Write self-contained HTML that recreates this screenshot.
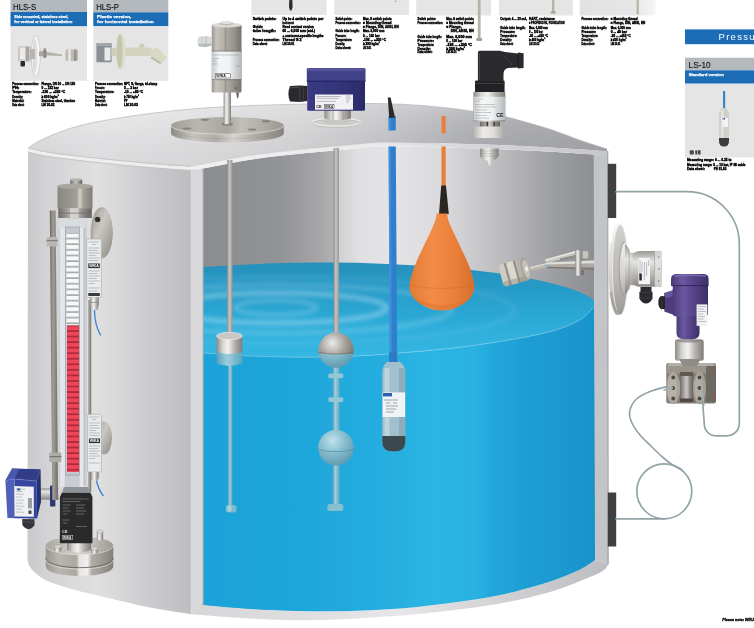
<!DOCTYPE html>
<html><head><meta charset="utf-8"><title>Level measurement</title>
<style>
html,body{margin:0;padding:0;background:#fff;overflow:hidden}
svg{display:block}
text{font-family:"Liberation Sans",sans-serif}
.t{font-size:4px;font-weight:bold;fill:#000;stroke:#000;stroke-width:.42px}
.w{font-size:4.3px;font-weight:bold;fill:#fff;stroke:#fff;stroke-width:.25px}
.h{font-size:8.7px;fill:#111;stroke:#111;stroke-width:.12px}
</style></head><body>
<svg width="754" height="628" viewBox="0 0 754 628">
<rect width="754" height="628" fill="#fff"/>
<filter id="gsoft" filterUnits="userSpaceOnUse" x="-10" y="-10" width="774" height="648"><feGaussianBlur stdDeviation=".45"/></filter>
<g filter="url(#gsoft)">
<rect x="-10" y="-10" width="774" height="648" fill="#fff"/>
<!-- defs -->
<defs>
<filter id="blur1" x="-10%" y="-50%" width="120%" height="200%"><feGaussianBlur stdDeviation="2.2"/></filter>
<filter id="blurS" x="-20%" y="-20%" width="140%" height="140%"><feGaussianBlur stdDeviation=".5"/></filter>
<filter id="soft" x="-5%" y="-5%" width="110%" height="110%"><feGaussianBlur stdDeviation=".35"/></filter>
<linearGradient id="gRoof" gradientUnits="userSpaceOnUse" x1="28" y1="0" x2="607" y2="0">
<stop offset="0" stop-color="#dcdcde"/><stop offset="0.12" stop-color="#e4e4e6"/><stop offset="0.3" stop-color="#dedee0"/><stop offset="0.47" stop-color="#d4d4d6"/><stop offset="0.6" stop-color="#c6c6c9"/><stop offset="0.68" stop-color="#babbbf"/><stop offset="0.76" stop-color="#aeafb3"/><stop offset="0.85" stop-color="#a6a7ab"/><stop offset="1" stop-color="#a2a3a7"/>
</linearGradient>
<linearGradient id="gRoofV" gradientUnits="userSpaceOnUse" x1="0" y1="100" x2="0" y2="170">
<stop offset="0" stop-color="#fff" stop-opacity=".28"/><stop offset=".35" stop-color="#fff" stop-opacity=".06"/><stop offset="1" stop-color="#000" stop-opacity=".04"/>
</linearGradient>
<linearGradient id="gInt" gradientUnits="userSpaceOnUse" x1="203" y1="0" x2="594" y2="0">
<stop offset="0" stop-color="#8c8d91"/><stop offset="0.1" stop-color="#8e8f93"/><stop offset="0.2" stop-color="#939498"/><stop offset="0.3" stop-color="#a6a6a9"/><stop offset="0.335" stop-color="#b2b2b5"/><stop offset="0.345" stop-color="#d0d0d2"/><stop offset="0.4" stop-color="#e0e0e2"/><stop offset="0.5" stop-color="#e4e4e6"/><stop offset="0.62" stop-color="#d9d9db"/><stop offset="0.76" stop-color="#bcbcbf"/><stop offset="0.9" stop-color="#9c9da1"/><stop offset="1" stop-color="#8e8f93"/>
</linearGradient>
<linearGradient id="gWall" gradientUnits="userSpaceOnUse" x1="28" y1="0" x2="190" y2="0">
<stop offset="0" stop-color="#cacacd"/><stop offset="0.12" stop-color="#d3d3d5"/><stop offset="0.42" stop-color="#e0e0e1"/><stop offset="0.6" stop-color="#d5d5d7"/><stop offset="0.8" stop-color="#c8c8cb"/><stop offset="1" stop-color="#bebec1"/>
</linearGradient>
<linearGradient id="gBand" gradientUnits="userSpaceOnUse" x1="190" y1="0" x2="607" y2="0">
<stop offset="0" stop-color="#f0f0f1"/><stop offset=".45" stop-color="#eaeaec"/><stop offset=".7" stop-color="#d4d4d7"/><stop offset="1" stop-color="#c6c7ca"/>
</linearGradient>
<linearGradient id="gFloor" gradientUnits="userSpaceOnUse" x1="190" y1="0" x2="608" y2="0">
<stop offset="0" stop-color="#d6d6d8"/><stop offset=".5" stop-color="#e6e6e8"/><stop offset="1" stop-color="#bcbdc0"/>
</linearGradient>
<linearGradient id="gWaterF" gradientUnits="userSpaceOnUse" x1="203" y1="0" x2="594" y2="0">
<stop offset="0" stop-color="#1ba2d8"/><stop offset="0.25" stop-color="#1ea6da"/><stop offset="0.45" stop-color="#25addf"/><stop offset="0.6" stop-color="#2cb5e3"/><stop offset="0.7" stop-color="#29b1e1"/><stop offset="0.74" stop-color="#22a7db"/><stop offset="0.87" stop-color="#1c9bd2"/><stop offset="1" stop-color="#1993cb"/>
</linearGradient>
<linearGradient id="gWaterS" gradientUnits="userSpaceOnUse" x1="0" y1="263" x2="0" y2="357">
<stop offset="0" stop-color="#2590bb"/><stop offset=".3" stop-color="#279cc9"/><stop offset=".65" stop-color="#2dacd9"/><stop offset="1" stop-color="#35b7e3"/>
</linearGradient>
<linearGradient id="gSteelH" x1="0" y1="0" x2="1" y2="0">
<stop offset="0" stop-color="#8d8a86"/><stop offset=".25" stop-color="#d8d7d5"/><stop offset=".45" stop-color="#f2f2f1"/><stop offset=".7" stop-color="#b5b3b0"/><stop offset="1" stop-color="#7f7c78"/>
</linearGradient>
<linearGradient id="gSteelD" x1="0" y1="0" x2="1" y2="0">
<stop offset="0" stop-color="#6e6a65"/><stop offset=".3" stop-color="#a9a6a1"/><stop offset=".5" stop-color="#c9c7c3"/><stop offset=".75" stop-color="#8d8984"/><stop offset="1" stop-color="#65615c"/>
</linearGradient>
<linearGradient id="gRod" x1="0" y1="0" x2="1" y2="0">
<stop offset="0" stop-color="#8f8a87"/><stop offset="0.4" stop-color="#c9c5c2"/><stop offset="1" stop-color="#9a9592"/>
</linearGradient>
<linearGradient id="gRodW" x1="0" y1="0" x2="1" y2="0">
<stop offset="0" stop-color="#5a9fb8"/><stop offset=".4" stop-color="#9fd0e0"/><stop offset="1" stop-color="#62a6be"/>
</linearGradient>
<linearGradient id="gSteelV" x1="0" y1="0" x2="0" y2="1">
<stop offset="0" stop-color="#9a9894"/><stop offset=".3" stop-color="#e6e5e3"/><stop offset=".6" stop-color="#c0beba"/><stop offset="1" stop-color="#8a8783"/>
</linearGradient>
<radialGradient id="gBall" cx=".4" cy=".3" r=".75"><stop offset="0" stop-color="#ecebe9"/><stop offset=".45" stop-color="#aaa7a2"/><stop offset="1" stop-color="#68645e"/></radialGradient>
<radialGradient id="gBallW" cx=".4" cy=".3" r=".75">
<stop offset="0" stop-color="#bfe2ec"/><stop offset=".5" stop-color="#86bccd"/><stop offset="1" stop-color="#5c97ad"/>
</radialGradient>
<linearGradient id="gOrange" x1="0" y1="0" x2="1" y2="0">
<stop offset="0" stop-color="#e27a34"/><stop offset=".35" stop-color="#f28c48"/><stop offset=".7" stop-color="#ea803a"/><stop offset="1" stop-color="#d56f2c"/>
</linearGradient>
<linearGradient id="gPurple" x1="0" y1="0" x2="1" y2="0">
<stop offset="0" stop-color="#4a3a78"/><stop offset=".3" stop-color="#6a58a0"/><stop offset=".6" stop-color="#554488"/><stop offset="1" stop-color="#3c2e66"/>
</linearGradient>
<linearGradient id="gBlueBox" x1="0" y1="0" x2="1" y2="0">
<stop offset="0" stop-color="#3a3a84"/><stop offset="0.5" stop-color="#34347a"/><stop offset="1" stop-color="#2b2b6a"/>
</linearGradient>
<linearGradient id="gCard7" x1="0" y1="0" x2="1" y2="0">
<stop offset="0" stop-color="#e2e2e3"/><stop offset=".7" stop-color="#e6e6e7"/><stop offset="1" stop-color="#f6f6f7"/>
</linearGradient>
<pattern id="pFlapW" x="0" y="232.8" width="13" height="5.65" patternUnits="userSpaceOnUse"><rect width="13" height="5.65" fill="#9da2a8"/><rect y=".9" width="13" height="4.1" fill="#f8f8f7"/></pattern>
<pattern id="pFlapR" x="0" y="325.4" width="13" height="5.55" patternUnits="userSpaceOnUse"><rect width="13" height="5.55" fill="#a8283a"/><rect y=".9" width="13" height="3.9" fill="#f04558"/></pattern>
<linearGradient id="gFlangeTop" x1="0" y1="0" x2="1" y2="0">
<stop offset="0" stop-color="#a29e98"/><stop offset="0.25" stop-color="#bab7b2"/><stop offset="0.5" stop-color="#a9a59f"/><stop offset="0.62" stop-color="#c2bfba"/><stop offset="0.8" stop-color="#b2aea8"/><stop offset="1" stop-color="#9a9690"/>
</linearGradient>
<linearGradient id="gFlangeSide" x1="0" y1="0" x2="1" y2="0">
<stop offset="0" stop-color="#8f8b86"/><stop offset="0.2" stop-color="#c9c6c2"/><stop offset="0.4" stop-color="#b0ada8"/><stop offset="0.55" stop-color="#d6d4d0"/><stop offset="0.7" stop-color="#b9b6b1"/><stop offset="1" stop-color="#85817c"/>
</linearGradient>
<linearGradient id="gLabel" x1="0" y1="0" x2="1" y2="0">
<stop offset="0" stop-color="#c6cbce"/><stop offset=".25" stop-color="#f3f5f6"/><stop offset=".6" stop-color="#eef0f1"/><stop offset="1" stop-color="#b4b9bc"/>
</linearGradient>
<linearGradient id="gNut" x1="0" y1="0" x2="1" y2="0">
<stop offset="0" stop-color="#b9b8b4"/><stop offset=".3" stop-color="#ecebe8"/><stop offset=".65" stop-color="#dddcd8"/><stop offset="1" stop-color="#a9a7a3"/>
</linearGradient>
<linearGradient id="gFlJ" x1="0" y1="0" x2="0" y2="1">
<stop offset="0" stop-color="#f0efed"/><stop offset="0.3" stop-color="#e2e1de"/><stop offset="0.6" stop-color="#d4d2cf"/><stop offset="1" stop-color="#acaaa6"/>
</linearGradient>
<linearGradient id="gFlL" x1="0" y1="0" x2="1" y2="1">
<stop offset="0" stop-color="#a09c96"/><stop offset="0.4" stop-color="#cbc8c3"/><stop offset="0.7" stop-color="#aba7a1"/><stop offset="1" stop-color="#8a8680"/>
</linearGradient>
<linearGradient id="gRodL" x1="0" y1="0" x2="1" y2="0">
<stop offset="0" stop-color="#6b6761"/><stop offset=".4" stop-color="#a29e98"/><stop offset="1" stop-color="#6f6b65"/>
</linearGradient>
<linearGradient id="gHeadL" x1="0" y1="0" x2="1" y2="0">
<stop offset="0" stop-color="#8a8680"/><stop offset=".35" stop-color="#9a968f"/><stop offset=".55" stop-color="#a39f98"/><stop offset=".64" stop-color="#d2d0cb"/><stop offset=".74" stop-color="#a5a19a"/><stop offset="1" stop-color="#807c76"/>
</linearGradient>
<linearGradient id="gRail" x1="0" y1="0" x2="1" y2="0">
<stop offset="0" stop-color="#c2c6cb"/><stop offset="0.08" stop-color="#e6e9ec"/><stop offset="0.24" stop-color="#dfe2e6"/><stop offset="0.26" stop-color="#b9bdc3"/><stop offset="0.72" stop-color="#b9bdc3"/><stop offset="0.74" stop-color="#e3e6e9"/><stop offset="0.92" stop-color="#e8eaed"/><stop offset="1" stop-color="#b8bcc1"/>
</linearGradient>
<linearGradient id="gHeadD" x1="0" y1="0" x2="1" y2="0">
<stop offset="0" stop-color="#9a958f"/><stop offset="0.15" stop-color="#c6c2bc"/><stop offset="0.4" stop-color="#b5b1ab"/><stop offset="0.47" stop-color="#989490"/><stop offset="0.52" stop-color="#aaa6a0"/><stop offset="0.75" stop-color="#96928c"/><stop offset="1" stop-color="#75716b"/>
</linearGradient>
<linearGradient id="gFlJ2" x1="0" y1="0" x2="0" y2="1">
<stop offset="0" stop-color="#d3d1ce"/><stop offset="0.3" stop-color="#c5c3bf"/><stop offset="0.6" stop-color="#bcbab6"/><stop offset="1" stop-color="#9a9894"/>
</linearGradient>
<linearGradient id="gFlB" x1="0" y1="0" x2="1" y2="0">
<stop offset="0" stop-color="#9a968f"/><stop offset=".2" stop-color="#b9b5af"/><stop offset=".45" stop-color="#aaa6a0"/><stop offset=".5" stop-color="#e6e5e3"/><stop offset=".62" stop-color="#f0efed"/><stop offset=".68" stop-color="#b0aca6"/><stop offset=".85" stop-color="#9a9690"/><stop offset="1" stop-color="#827e78"/>
</linearGradient>
<linearGradient id="gFlBT" x1="0" y1="0" x2="1" y2="0">
<stop offset="0" stop-color="#a9a59f"/><stop offset=".3" stop-color="#c6c3be"/><stop offset=".55" stop-color="#d6d4d0"/><stop offset=".8" stop-color="#b4b0aa"/><stop offset="1" stop-color="#9d9993"/>
</linearGradient>
</defs>

<!-- cards -->
<rect x="10.5" y="-2" width="76.5" height="14" fill="#b3b9bc"/>
<rect x="10.5" y="12" width="76.5" height="14.4" fill="#1b6db6"/>
<rect x="10.5" y="26.4" width="76.5" height="54.4" fill="#e5e5e6"/>
<text class="h" x="13" y="9.9" textLength="23.2" lengthAdjust="spacingAndGlyphs">HLS-S</text>
<text class="w" x="14.3" y="18.3" textLength="54" lengthAdjust="spacingAndGlyphs">Side mounted, stainless steel,</text>
<text class="w" x="14.3" y="23.3" textLength="58" lengthAdjust="spacingAndGlyphs">for vertical or lateral installation</text>
<g filter="url(#blurS)">
<ellipse cx="35.8" cy="55.8" rx="4.6" ry="20.5" fill="#f3f3f3" stroke="#c9c9ca" stroke-width=".8"/>
<ellipse cx="34.8" cy="55.8" rx="2.2" ry="17" fill="#dcdcdc"/>
<rect x="18" y="46" width="13" height="15.5" rx="1.5" fill="#c9c8c6"/>
<rect x="20" y="47.5" width="5" height="12" fill="#ecebea"/>
<rect x="26" y="47" width="3" height="14" fill="#a9a6a2"/>
<rect x="30" y="49" width="5" height="10" fill="#b9b6b1"/>
<rect x="20.5" y="61" width="4.5" height="5.5" rx="1" fill="#2b2b2d"/>
<path d="M39,51.5 L47,50.5 L47,57 L39,56 Z" fill="#aaa6a0"/>
<rect x="43.5" y="48.5" width="2.5" height="9.5" fill="#8e8a85"/>
<path d="M47,52 L62,54.5 L62,56 L47,55.5 Z" fill="#b5b1ab"/>
<rect x="65.5" y="49.5" width="12.5" height="11.5" rx="2" fill="#bdb9b3"/>
<rect x="68" y="49.5" width="3" height="11.5" fill="#e3e1de"/>
<rect x="74" y="49.5" width="2.5" height="11.5" fill="#96928c"/>
</g>
<rect x="93.3" y="-2" width="75" height="14.3" fill="#b3b9bc"/>
<rect x="93.3" y="12.3" width="75" height="14" fill="#1b6db6"/>
<rect x="93.3" y="26.3" width="75" height="54.5" fill="#e5e5e6"/>
<text class="h" x="96.2" y="9.7" textLength="22.8" lengthAdjust="spacingAndGlyphs">HLS-P</text>
<text class="w" x="97.1" y="18.4" textLength="34.3" lengthAdjust="spacingAndGlyphs">Plastic version,</text>
<text class="w" x="97.1" y="23.4" textLength="56.6" lengthAdjust="spacingAndGlyphs">for horizontal installation</text>
<g filter="url(#blurS)">
<path d="M125,47.5 L150,47.5 L152.5,50 L152.5,56 L125,56 Z" fill="#d3d4bd"/>
<path d="M139,47.5 L140.5,43.5 L144.5,44.5 L144,47.5 Z" fill="#c9cab2"/>
<path d="M152,50.5 L157,47 L167,57.5 L161.5,63 L151.5,56.5 Z" fill="#d8d9c4"/>
<path d="M151.5,56.5 L161.5,63 L160,64 L150.5,58 Z" fill="#b4b59f"/>
<ellipse cx="120.8" cy="51.2" rx="4.8" ry="18" fill="#dcddc8"/>
<ellipse cx="119.6" cy="51.2" rx="3" ry="17" fill="#c5c6b0"/>
<rect x="96.4" y="43" width="15.2" height="19.2" rx="1" fill="#8a8f95"/>
<rect x="96.4" y="43" width="15.2" height="3" fill="#a3a8ad"/>
<rect x="104.5" y="47.5" width="6" height="13" fill="#e8eaec"/>
<rect x="111.6" y="48" width="5" height="8" fill="#cfd0ba"/>
</g>
<rect x="251.5" y="-2" width="75.0" height="17.0" fill="#e5e5e6"/>
<rect x="334.3" y="-2" width="74.8" height="17.0" fill="#e5e5e6"/>
<rect x="416.2" y="-2" width="74.8" height="17.5" fill="#e5e5e6"/>
<rect x="499.0" y="-2" width="73.8" height="17.5" fill="#e5e5e6"/>
<rect x="579.7" y="-2" width="75.8" height="17.5" fill="url(#gCard7)"/>
<path d="M289.3,-1 L292.3,-1 L292.6,7 L291.6,10.5 L290,10.5 L289,7 Z" fill="#2e2e30" filter="url(#blurS)"/>
<path d="M394.6,2 L396.6,2 L395.6,0 Z" fill="#a9aa9c"/>
<rect x="477.8" y="-1" width="2.8" height="40" fill="#b3b6a6"/><rect x="476.3" y="38" width="5.8" height="3" rx="1" fill="#9fa292"/>
<rect x="552" y="-1" width="2.4" height="13" fill="#b3b6a6"/><rect x="550.6" y="11.3" width="5.2" height="2.2" rx="1" fill="#9fa292"/>
<rect x="636.4" y="-1" width="2.6" height="15.5" fill="#b9bbae"/>
<rect x="685" y="29.4" width="70" height="14.8" fill="#1b6db6"/>
<text x="718.6" y="40.4" font-size="9.5" fill="#fff" letter-spacing="1.25">Pressure</text>
<rect x="685" y="57.7" width="70" height="12.6" fill="#b3b9bc"/>
<rect x="685" y="70.3" width="70" height="13.4" fill="#1b6db6"/>
<rect x="685" y="83.7" width="70" height="73.8" fill="#e5e5e6"/>
<text x="688.6" y="67.7" font-size="9.2" fill="#111" stroke="#111" stroke-width=".12" textLength="22" lengthAdjust="spacingAndGlyphs">LS-10</text>
<text class="w" x="688.7" y="76.3">Standard version</text>
<g filter="url(#blurS)">
<rect x="723" y="91" width="2.2" height="19" fill="#3b83c9"/>
<path d="M721.5,108 L726.5,108 L729,113 L729,141 Q729,146.5 724,146.5 Q719,146.5 719,141 L719,113 Z" fill="#cfd0cc"/>
<path d="M719,138 L729,138 L729,141 Q729,146.5 724,146.5 Q719,146.5 719,141 Z" fill="#3a3d40"/>
<rect x="722" y="118" width="6" height="9" fill="#f4f4f2"/><rect x="722" y="118" width="3" height="1.6" fill="#2e62b0"/>
<rect x="721" y="110" width="2.5" height="28" fill="#ecece9" opacity=".7"/>
</g>
<g fill="#4a4a4c"><rect x="689.7" y="150.3" width="4.2" height="4.2" rx="1"/><rect x="695.2" y="150.3" width="2.2" height="4.2"/><rect x="698" y="150.3" width="2.6" height="4.2"/></g>
<text class="t" x="12.2" y="84.8" textLength="26.5" lengthAdjust="spacingAndGlyphs">Process connection:</text>
<text class="t" x="41.5" y="84.8" textLength="33.7" lengthAdjust="spacingAndGlyphs">Flange, DN 50 ... DN 150</text>
<text class="t" x="12.2" y="88.6" textLength="7.1" lengthAdjust="spacingAndGlyphs">PN:</text>
<text class="t" x="41.5" y="88.6" textLength="17.2" lengthAdjust="spacingAndGlyphs">0 ... 232 bar</text>
<text class="t" x="12.2" y="92.5" textLength="19.3" lengthAdjust="spacingAndGlyphs">Temperature:</text>
<text class="t" x="41.5" y="92.5" textLength="23.7" lengthAdjust="spacingAndGlyphs">-196 ... +350 °C</text>
<text class="t" x="12.2" y="97.8" textLength="10.7" lengthAdjust="spacingAndGlyphs">Density:</text>
<text class="t" x="41.5" y="97.8" textLength="17.2" lengthAdjust="spacingAndGlyphs">≥ 600 kg/m³</text>
<text class="t" x="12.2" y="101.6" textLength="12.1" lengthAdjust="spacingAndGlyphs">Material:</text>
<text class="t" x="41.5" y="101.6" textLength="33.7" lengthAdjust="spacingAndGlyphs">Stainless steel, titanium</text>
<text class="t" x="12.2" y="105.5" textLength="12.1" lengthAdjust="spacingAndGlyphs">Data sheet:</text>
<text class="t" x="41.5" y="105.5" textLength="12.9" lengthAdjust="spacingAndGlyphs">LM 30.02</text>
<text class="t" x="95.0" y="85.0" textLength="28.0" lengthAdjust="spacingAndGlyphs">Process connection:</text>
<text class="t" x="123.9" y="85.0" textLength="33.3" lengthAdjust="spacingAndGlyphs">NPT, G, flange, tri-clamp</text>
<text class="t" x="95.0" y="88.8" textLength="9.6" lengthAdjust="spacingAndGlyphs">Pressure:</text>
<text class="t" x="123.9" y="88.8" textLength="14.0" lengthAdjust="spacingAndGlyphs">0 ... 3 bar</text>
<text class="t" x="95.0" y="92.8" textLength="19.3" lengthAdjust="spacingAndGlyphs">Temperature:</text>
<text class="t" x="123.9" y="92.8" textLength="19.3" lengthAdjust="spacingAndGlyphs">-10 ... +80 °C</text>
<text class="t" x="95.0" y="97.9" textLength="10.5" lengthAdjust="spacingAndGlyphs">Density:</text>
<text class="t" x="123.9" y="97.9" textLength="14.9" lengthAdjust="spacingAndGlyphs">≥ 750 kg/m³</text>
<text class="t" x="95.0" y="101.8" textLength="10.5" lengthAdjust="spacingAndGlyphs">Material:</text>
<text class="t" x="123.9" y="101.8" textLength="3.5" lengthAdjust="spacingAndGlyphs">PP</text>
<text class="t" x="95.0" y="105.8" textLength="12.3" lengthAdjust="spacingAndGlyphs">Data sheet:</text>
<text class="t" x="123.9" y="105.8" textLength="14.0" lengthAdjust="spacingAndGlyphs">LM 30.03</text>
<text class="t" x="252.7" y="20.0" textLength="23.6" lengthAdjust="spacingAndGlyphs">Switch points:</text>
<text class="t" x="282.5" y="20.0" textLength="41.0" lengthAdjust="spacingAndGlyphs">Up to 4 switch points per</text>
<text class="t" x="282.5" y="24.1" textLength="11.2" lengthAdjust="spacingAndGlyphs">instrument</text>
<text class="t" x="252.7" y="28.4" textLength="10.0" lengthAdjust="spacingAndGlyphs">Guide</text>
<text class="t" x="282.5" y="28.4" textLength="31.5" lengthAdjust="spacingAndGlyphs">Reed contact version</text>
<text class="t" x="252.7" y="32.4" textLength="23.1" lengthAdjust="spacingAndGlyphs">tube length:</text>
<text class="t" x="282.5" y="32.4" textLength="32.5" lengthAdjust="spacingAndGlyphs">60 ... 6,000 mm (std.)</text>
<text class="t" x="282.5" y="36.9" textLength="41.0" lengthAdjust="spacingAndGlyphs">+ customer-specific lengths</text>
<text class="t" x="252.7" y="40.9" textLength="26.7" lengthAdjust="spacingAndGlyphs">Process connection:</text>
<text class="t" x="282.5" y="40.9" textLength="19.1" lengthAdjust="spacingAndGlyphs">Thread G 2</text>
<text class="t" x="252.7" y="44.9" textLength="14.8" lengthAdjust="spacingAndGlyphs">Data sheet:</text>
<text class="t" x="282.5" y="44.9" textLength="11.9" lengthAdjust="spacingAndGlyphs">LM 30.01</text>
<text class="t" x="335.5" y="20.0" textLength="16.7" lengthAdjust="spacingAndGlyphs">Switch points:</text>
<text class="t" x="363.0" y="20.0" textLength="28.6" lengthAdjust="spacingAndGlyphs">Max. 8 switch points</text>
<text class="t" x="335.5" y="24.1" textLength="25.0" lengthAdjust="spacingAndGlyphs">Process connection:</text>
<text class="t" x="363.0" y="24.1" textLength="28.6" lengthAdjust="spacingAndGlyphs">■ Mounting thread</text>
<text class="t" x="363.0" y="28.4" textLength="35.8" lengthAdjust="spacingAndGlyphs">■ Flange, DIN, ANSI, EN</text>
<text class="t" x="335.5" y="32.4" textLength="23.9" lengthAdjust="spacingAndGlyphs">Guide tube length:</text>
<text class="t" x="363.0" y="32.4" textLength="21.4" lengthAdjust="spacingAndGlyphs">Max. 6,000 mm</text>
<text class="t" x="335.5" y="37.4" textLength="10.7" lengthAdjust="spacingAndGlyphs">Pressure:</text>
<text class="t" x="363.0" y="37.4" textLength="16.7" lengthAdjust="spacingAndGlyphs">0 ... 100 bar</text>
<text class="t" x="335.5" y="41.4" textLength="16.7" lengthAdjust="spacingAndGlyphs">Temperature:</text>
<text class="t" x="363.0" y="41.4" textLength="23.0" lengthAdjust="spacingAndGlyphs">-196 ... +300 °C</text>
<text class="t" x="335.5" y="45.4" textLength="9.5" lengthAdjust="spacingAndGlyphs">Density:</text>
<text class="t" x="363.0" y="45.4" textLength="16.7" lengthAdjust="spacingAndGlyphs">≥ 390 kg/m³</text>
<text class="t" x="335.5" y="49.4" textLength="15.5" lengthAdjust="spacingAndGlyphs">Data sheet:</text>
<text class="t" x="363.0" y="49.4" textLength="8.3" lengthAdjust="spacingAndGlyphs">LM 30.01</text>
<text class="t" x="417.6" y="19.7" textLength="18.3" lengthAdjust="spacingAndGlyphs">Switch points:</text>
<text class="t" x="446.2" y="19.7" textLength="27.6" lengthAdjust="spacingAndGlyphs">Max. 8 switch points</text>
<text class="t" x="417.6" y="24.4" textLength="25.2" lengthAdjust="spacingAndGlyphs">Process connection:</text>
<text class="t" x="446.2" y="24.4" textLength="27.6" lengthAdjust="spacingAndGlyphs">■ Mounting thread</text>
<text class="t" x="446.2" y="28.4" textLength="15.5" lengthAdjust="spacingAndGlyphs">■ Flange,</text>
<text class="t" x="450.7" y="32.4" textLength="23.1" lengthAdjust="spacingAndGlyphs">DIN, ANSI, EN</text>
<text class="t" x="417.6" y="37.6" textLength="24.1" lengthAdjust="spacingAndGlyphs">Guide tube length:</text>
<text class="t" x="446.2" y="37.6" textLength="25.8" lengthAdjust="spacingAndGlyphs">Max. 6,000 mm</text>
<text class="t" x="417.6" y="41.8" textLength="16.4" lengthAdjust="spacingAndGlyphs">Pressure:</text>
<text class="t" x="446.2" y="41.8" textLength="16.2" lengthAdjust="spacingAndGlyphs">0 ... 100 bar</text>
<text class="t" x="417.6" y="45.9" textLength="16.4" lengthAdjust="spacingAndGlyphs">Temperature:</text>
<text class="t" x="446.2" y="45.9" textLength="25.8" lengthAdjust="spacingAndGlyphs">-196 ... +300 °C</text>
<text class="t" x="417.6" y="50.0" textLength="13.1" lengthAdjust="spacingAndGlyphs">Density:</text>
<text class="t" x="446.2" y="50.0" textLength="18.8" lengthAdjust="spacingAndGlyphs">≥ 390 kg/m³</text>
<text class="t" x="417.6" y="53.4" textLength="14.8" lengthAdjust="spacingAndGlyphs">Data sheet:</text>
<text class="t" x="446.2" y="53.4" textLength="10.4" lengthAdjust="spacingAndGlyphs">LM 30.01</text>
<text class="t" x="500.3" y="19.7" textLength="26.9" lengthAdjust="spacingAndGlyphs">Output: 4 ... 20 mA,</text>
<text class="t" x="529.0" y="19.7" textLength="25.8" lengthAdjust="spacingAndGlyphs">HART, resistance</text>
<text class="t" x="529.0" y="24.4" textLength="35.5" lengthAdjust="spacingAndGlyphs">■ PROFIBUS PA, FOUNDATION</text>
<text class="t" x="500.3" y="28.9" textLength="25.2" lengthAdjust="spacingAndGlyphs">Guide tube length:</text>
<text class="t" x="529.0" y="28.9" textLength="19.0" lengthAdjust="spacingAndGlyphs">Max. 6,000 mm</text>
<text class="t" x="500.3" y="33.4" textLength="14.7" lengthAdjust="spacingAndGlyphs">Pressure:</text>
<text class="t" x="529.0" y="33.4" textLength="13.8" lengthAdjust="spacingAndGlyphs">0 ... 100 bar</text>
<text class="t" x="500.3" y="37.4" textLength="16.7" lengthAdjust="spacingAndGlyphs">Temperature:</text>
<text class="t" x="529.0" y="37.4" textLength="19.0" lengthAdjust="spacingAndGlyphs">-90 ... +450 °C</text>
<text class="t" x="500.3" y="41.4" textLength="11.4" lengthAdjust="spacingAndGlyphs">Density:</text>
<text class="t" x="529.0" y="41.4" textLength="16.2" lengthAdjust="spacingAndGlyphs">≥ 400 kg/m³</text>
<text class="t" x="500.3" y="45.4" textLength="13.1" lengthAdjust="spacingAndGlyphs">Data sheet:</text>
<text class="t" x="529.0" y="45.4" textLength="10.3" lengthAdjust="spacingAndGlyphs">LM 20.02</text>
<text class="t" x="581.4" y="19.7" textLength="26.9" lengthAdjust="spacingAndGlyphs">Process connection:</text>
<text class="t" x="610.7" y="19.7" textLength="26.9" lengthAdjust="spacingAndGlyphs">■ Mounting thread</text>
<text class="t" x="610.7" y="24.4" textLength="34.5" lengthAdjust="spacingAndGlyphs">■ Flange, DIN, ANSI, EN</text>
<text class="t" x="581.4" y="28.9" textLength="25.2" lengthAdjust="spacingAndGlyphs">Guide tube length:</text>
<text class="t" x="610.7" y="28.9" textLength="20.0" lengthAdjust="spacingAndGlyphs">Max. 6,000 mm</text>
<text class="t" x="581.4" y="33.4" textLength="14.6" lengthAdjust="spacingAndGlyphs">Pressure:</text>
<text class="t" x="610.7" y="33.4" textLength="16.3" lengthAdjust="spacingAndGlyphs">0 ... 40 bar</text>
<text class="t" x="581.4" y="37.4" textLength="16.6" lengthAdjust="spacingAndGlyphs">Temperature:</text>
<text class="t" x="610.7" y="37.4" textLength="20.0" lengthAdjust="spacingAndGlyphs">-90 ... +450 °C</text>
<text class="t" x="581.4" y="41.4" textLength="11.4" lengthAdjust="spacingAndGlyphs">Density:</text>
<text class="t" x="610.7" y="41.4" textLength="15.9" lengthAdjust="spacingAndGlyphs">≥ 400 kg/m³</text>
<text class="t" x="581.4" y="45.4" textLength="13.1" lengthAdjust="spacingAndGlyphs">Data sheet:</text>
<text class="t" x="610.7" y="45.4" textLength="9.6" lengthAdjust="spacingAndGlyphs">LM 20.01</text>
<text class="t" x="686.9" y="161.3" textLength="44.6" lengthAdjust="spacingAndGlyphs">Measuring range: 0 ... 0.25 to</text>
<text class="t" x="686.9" y="165.8" textLength="58.6" lengthAdjust="spacingAndGlyphs">Measuring range: 0 ... 10 bar, IP 68 cable</text>
<text class="t" x="686.9" y="169.8" textLength="17.9" lengthAdjust="spacingAndGlyphs">Data sheet:</text>
<text class="t" x="713.7" y="169.8" textLength="12.7" lengthAdjust="spacingAndGlyphs">PE 81.55</text>
<text x="722.3" y="620.8" font-size="3.7" font-weight="bold" font-style="italic" fill="#000" stroke="#000" stroke-width=".3">Please note: WIKA instruments</text>
<!-- tank -->
<path d="M28.0,148.5 C28.5,148.1 29.7,146.9 31.0,146.0 C32.3,145.1 32.8,144.5 36.0,142.8 C39.2,141.1 46.0,137.6 50.0,135.8 C54.0,134.0 55.8,133.5 60.0,132.0 C64.2,130.5 68.3,128.8 75.0,127.0 C81.7,125.2 87.5,123.5 100.0,121.3 C112.5,119.0 133.3,115.7 150.0,113.5 C166.7,111.3 183.3,109.6 200.0,108.3 C216.7,107.0 233.3,106.3 250.0,105.6 C266.7,104.9 283.3,104.6 300.0,104.2 C316.7,103.8 333.3,103.4 350.0,103.4 C366.7,103.4 383.3,103.4 400.0,104.2 C416.7,105.0 433.3,106.3 450.0,108.2 C466.7,110.1 488.3,113.8 500.0,115.8 C511.7,117.8 511.7,118.2 520.0,120.5 C528.3,122.8 540.0,126.0 550.0,129.3 C560.0,132.6 571.7,137.3 580.0,140.2 C588.3,143.1 595.5,145.3 600.0,146.8 C604.5,148.3 605.8,148.6 607.0,149.0 L607,156 L598.0,150.5 L550.0,147.5 L500.0,145.0 L440.0,143.2 L380.0,142.5 L350.0,145.0 L300.0,149.5 L250.0,155.5 L203.0,164.0 L190.0,166.5 L190.0,166.5 L150.0,163.6 L100.0,158.8 L60.0,154.2 L40.0,151.0 L28.0,148.0Z" fill="url(#gRoof)"/>
<path d="M28.0,148.5 C28.5,148.1 29.7,146.9 31.0,146.0 C32.3,145.1 32.8,144.5 36.0,142.8 C39.2,141.1 46.0,137.6 50.0,135.8 C54.0,134.0 55.8,133.5 60.0,132.0 C64.2,130.5 68.3,128.8 75.0,127.0 C81.7,125.2 87.5,123.5 100.0,121.3 C112.5,119.0 133.3,115.7 150.0,113.5 C166.7,111.3 183.3,109.6 200.0,108.3 C216.7,107.0 233.3,106.3 250.0,105.6 C266.7,104.9 283.3,104.6 300.0,104.2 C316.7,103.8 333.3,103.4 350.0,103.4 C366.7,103.4 383.3,103.4 400.0,104.2 C416.7,105.0 433.3,106.3 450.0,108.2 C466.7,110.1 488.3,113.8 500.0,115.8 C511.7,117.8 511.7,118.2 520.0,120.5 C528.3,122.8 540.0,126.0 550.0,129.3 C560.0,132.6 571.7,137.3 580.0,140.2 C588.3,143.1 595.5,145.3 600.0,146.8 C604.5,148.3 605.8,148.6 607.0,149.0 L607,156 L598.0,150.5 L550.0,147.5 L500.0,145.0 L440.0,143.2 L380.0,142.5 L350.0,145.0 L300.0,149.5 L250.0,155.5 L203.0,164.0 L190.0,166.5 L190.0,166.5 L150.0,163.6 L100.0,158.8 L60.0,154.2 L40.0,151.0 L28.0,148.0Z" fill="url(#gRoofV)"/>
<path d="M28.0,148.5 C28.5,148.1 29.7,146.9 31.0,146.0 C32.3,145.1 32.8,144.5 36.0,142.8 C39.2,141.1 46.0,137.6 50.0,135.8 C54.0,134.0 55.8,133.5 60.0,132.0 C64.2,130.5 68.3,128.8 75.0,127.0 C81.7,125.2 87.5,123.5 100.0,121.3 C112.5,119.0 133.3,115.7 150.0,113.5 C166.7,111.3 183.3,109.6 200.0,108.3 C216.7,107.0 233.3,106.3 250.0,105.6 C266.7,104.9 283.3,104.6 300.0,104.2 C316.7,103.8 333.3,103.4 350.0,103.4 C366.7,103.4 383.3,103.4 400.0,104.2 C416.7,105.0 433.3,106.3 450.0,108.2 C466.7,110.1 488.3,113.8 500.0,115.8 C511.7,117.8 511.7,118.2 520.0,120.5 C528.3,122.8 540.0,126.0 550.0,129.3 C560.0,132.6 571.7,137.3 580.0,140.2 C588.3,143.1 595.5,145.3 600.0,146.8 C604.5,148.3 605.8,148.6 607.0,149.0" fill="none" stroke="#b4b5b8" stroke-width=".8" stroke-opacity=".85"/>
<path d="M203.0,168.5 C210.8,167.0 233.8,162.2 250.0,159.7 C266.2,157.2 283.3,155.4 300.0,153.7 C316.7,151.9 336.7,150.4 350.0,149.2 C363.3,148.0 365.0,147.0 380.0,146.7 C395.0,146.4 420.0,147.0 440.0,147.4 C460.0,147.8 481.7,148.5 500.0,149.2 C518.3,149.9 534.3,150.8 550.0,151.7 C565.7,152.6 586.7,154.0 594.0,154.5 L595,560 L595.0,560.0 L580.0,569.5 L550.0,581.5 L500.0,595.0 L450.0,603.0 L400.0,608.5 L350.0,611.0 L300.0,611.0 L250.0,609.0 L203.0,605.0 Z" fill="url(#gInt)"/>
<path d="M593.7,154 L607,155 L608,564 L595,560 Z" fill="#c3c4c7"/>
<path d="M607,151 L608.3,151 L608.8,564 L607.3,566 Z" fill="#a9aaad"/>
<path d="M190.0,614.0 C200.0,614.8 228.3,617.5 250.0,618.5 C271.7,619.5 295.0,620.5 320.0,620.0 C345.0,619.5 378.3,617.1 400.0,615.5 C421.7,613.9 433.3,612.5 450.0,610.5 C466.7,608.5 483.3,606.6 500.0,603.5 C516.7,600.4 535.0,596.4 550.0,592.0 C565.0,587.6 581.0,580.7 590.0,577.0 C599.0,573.3 601.0,572.2 604.0,570.0 C607.0,567.8 607.3,565.0 608.0,564.0 L595,560  C592.5,561.6 587.5,565.9 580.0,569.5 C572.5,573.1 563.3,577.2 550.0,581.5 C536.7,585.8 516.7,591.4 500.0,595.0 C483.3,598.6 466.7,600.8 450.0,603.0 C433.3,605.2 416.7,607.2 400.0,608.5 C383.3,609.8 366.7,610.6 350.0,611.0 C333.3,611.4 316.7,611.3 300.0,611.0 C283.3,610.7 266.2,610.0 250.0,609.0 C233.8,608.0 210.8,605.7 203.0,605.0 L190,605 Z" fill="url(#gFloor)"/>
<path d="M203.0,353.0 C210.8,353.5 233.8,355.3 250.0,356.0 C266.2,356.7 283.3,357.1 300.0,357.2 C316.7,357.3 333.3,357.2 350.0,356.5 C366.7,355.8 383.3,354.4 400.0,353.0 C416.7,351.6 433.3,350.3 450.0,348.4 C466.7,346.5 483.3,344.3 500.0,341.5 C516.7,338.7 536.7,335.3 550.0,331.7 C563.3,328.1 572.7,324.0 580.0,319.8 C587.3,315.6 591.7,308.7 594.0,306.5 L595,560  C592.5,561.6 587.5,565.9 580.0,569.5 C572.5,573.1 563.3,577.2 550.0,581.5 C536.7,585.8 516.7,591.4 500.0,595.0 C483.3,598.6 466.7,600.8 450.0,603.0 C433.3,605.2 416.7,607.2 400.0,608.5 C383.3,609.8 366.7,610.6 350.0,611.0 C333.3,611.4 316.7,611.3 300.0,611.0 C283.3,610.7 266.2,610.0 250.0,609.0 C233.8,608.0 210.8,605.7 203.0,605.0 Z" fill="url(#gWaterF)"/>
<clipPath id="cpInt"><rect x="203" y="150" width="391" height="470"/></clipPath>
<g clip-path="url(#cpInt)">
<path d="M203.0,353.0 C210.8,353.5 233.8,355.3 250.0,356.0 C266.2,356.7 283.3,357.1 300.0,357.2 C316.7,357.3 333.3,357.2 350.0,356.5 C366.7,355.8 383.3,354.4 400.0,353.0 C416.7,351.6 433.3,350.3 450.0,348.4 C466.7,346.5 483.3,344.3 500.0,341.5 C516.7,338.7 536.7,335.3 550.0,331.7 C563.3,328.1 572.7,324.0 580.0,319.8 C587.3,315.6 591.7,308.7 594.0,306.5 L594,300 A279,47 0 0 0 203,267 Z" fill="url(#gWaterS)"/>
<clipPath id="cpSurf"><path d="M203.0,353.0 C210.8,353.5 233.8,355.3 250.0,356.0 C266.2,356.7 283.3,357.1 300.0,357.2 C316.7,357.3 333.3,357.2 350.0,356.5 C366.7,355.8 383.3,354.4 400.0,353.0 C416.7,351.6 433.3,350.3 450.0,348.4 C466.7,346.5 483.3,344.3 500.0,341.5 C516.7,338.7 536.7,335.3 550.0,331.7 C563.3,328.1 572.7,324.0 580.0,319.8 C587.3,315.6 591.7,308.7 594.0,306.5 L594,300 A279,47 0 0 0 203,267 Z"/></clipPath>
<g clip-path="url(#cpSurf)" fill="none" stroke="#fff" filter="url(#blur1)">
<ellipse cx="276" cy="307.5" rx="41" ry="7" stroke-width="3" stroke-opacity=".26"/>
<ellipse cx="277" cy="308" rx="110" ry="15" stroke-width="5" stroke-opacity=".30"/>
<ellipse cx="280" cy="309" rx="172" ry="24" stroke-width="5" stroke-opacity=".16"/>
<ellipse cx="283" cy="310" rx="232" ry="33" stroke-width="4" stroke-opacity=".08"/>
</g>
<path d="M203.0,353.0 C210.8,353.5 233.8,355.3 250.0,356.0 C266.2,356.7 283.3,357.1 300.0,357.2 C316.7,357.3 333.3,357.2 350.0,356.5 C366.7,355.8 383.3,354.4 400.0,353.0 C416.7,351.6 433.3,350.3 450.0,348.4 C466.7,346.5 483.3,344.3 500.0,341.5 C516.7,338.7 536.7,335.3 550.0,331.7 C563.3,328.1 572.7,324.0 580.0,319.8 C587.3,315.6 591.7,308.7 594.0,306.5" fill="none" stroke="#8fd6f0" stroke-width=".9" stroke-opacity=".6"/>
</g>
<path d="M190,166.5 L203,164.5 L203,605 L190,614 Z" fill="#d9d9db"/>
<path d="M203,168 L203,605.5" stroke="#b4b5b8" stroke-width="1"/>
<path d="M28.0,148.0 C30.0,148.5 34.7,150.0 40.0,151.0 C45.3,152.0 50.0,152.9 60.0,154.2 C70.0,155.5 85.0,157.2 100.0,158.8 C115.0,160.4 135.0,162.3 150.0,163.6 C165.0,164.9 183.3,166.0 190.0,166.5 L190,614  C183.3,612.9 165.0,610.6 150.0,607.6 C135.0,604.6 112.5,598.9 100.0,596.0 C87.5,593.1 83.3,592.3 75.0,590.0 C66.7,587.7 56.2,584.5 50.0,582.0 C43.8,579.5 41.3,577.5 38.0,575.0 C34.7,572.5 31.8,569.5 30.0,567.0 C28.2,564.5 27.9,561.2 27.5,560.0 Z" fill="url(#gWall)"/>
<path d="M190,167 L190,614" stroke="#b9babd" stroke-width="1"/>
<path d="M190.0,166.5 C192.2,166.1 193.0,165.8 203.0,164.0 C213.0,162.2 233.8,157.9 250.0,155.5 C266.2,153.1 283.3,151.2 300.0,149.5 C316.7,147.8 336.7,146.2 350.0,145.0 C363.3,143.8 365.0,142.8 380.0,142.5 C395.0,142.2 420.0,142.8 440.0,143.2 C460.0,143.6 481.7,144.3 500.0,145.0 C518.3,145.7 533.7,146.6 550.0,147.5 C566.3,148.4 588.5,149.9 598.0,150.5 C607.5,151.1 605.5,150.9 607.0,151.0 L607,155.5  C604.8,155.3 603.5,155.1 594.0,154.5 C584.5,153.9 565.7,152.6 550.0,151.7 C534.3,150.8 518.3,149.9 500.0,149.2 C481.7,148.5 460.0,147.8 440.0,147.4 C420.0,147.0 395.0,146.4 380.0,146.7 C365.0,147.0 363.3,148.0 350.0,149.2 C336.7,150.4 316.7,151.9 300.0,153.7 C283.3,155.4 266.2,157.2 250.0,159.7 C233.8,162.2 213.0,166.9 203.0,168.5 C193.0,170.1 192.2,169.3 190.0,169.5 Z" fill="url(#gBand)"/>
<path d="M190.0,166.5 C192.2,166.1 193.0,165.8 203.0,164.0 C213.0,162.2 233.8,157.9 250.0,155.5 C266.2,153.1 283.3,151.2 300.0,149.5 C316.7,147.8 336.7,146.2 350.0,145.0 C363.3,143.8 365.0,142.8 380.0,142.5 C395.0,142.2 430.0,143.1 440.0,143.2" fill="none" stroke="#bfc0c3" stroke-width=".6" stroke-opacity=".8"/>
<path d="M28.0,149.9 C30.0,150.4 34.7,151.9 40.0,152.9 C45.3,153.9 50.0,154.8 60.0,156.1 C70.0,157.4 85.0,159.1 100.0,160.7 C115.0,162.3 135.0,164.2 150.0,165.5 C165.0,166.8 183.3,167.9 190.0,168.4" fill="none" stroke="#eeeeef" stroke-width="3.4"/>
<path d="M28.0,152.0 C30.0,152.5 34.7,154.0 40.0,155.0 C45.3,156.0 50.0,156.9 60.0,158.2 C70.0,159.5 85.0,161.2 100.0,162.8 C115.0,164.4 135.0,166.3 150.0,167.6 C165.0,168.9 183.3,170.0 190.0,170.5" fill="none" stroke="#bfc0c3" stroke-width=".8"/>
<path d="M28.0,147.7 C30.0,148.2 34.7,149.7 40.0,150.7 C45.3,151.7 50.0,152.6 60.0,153.9 C70.0,155.2 85.0,156.9 100.0,158.5 C115.0,160.1 135.0,162.0 150.0,163.3 C165.0,164.6 183.3,165.7 190.0,166.2" fill="none" stroke="#bdbec1" stroke-width=".8"/>
<!-- instr_inside -->
<rect x="227.2" y="160" width="5.3" height="175" fill="url(#gRod)"/>
<rect x="228" y="352" width="4.4" height="154" fill="url(#gRodW)"/>
<rect x="225.8" y="505" width="10.6" height="7.4" rx="2.5" fill="#7fb9cb"/><rect x="227.5" y="505.5" width="4" height="6" rx="1.5" fill="#a6d3e0"/>
<path d="M216.5,352 L242.3,352 L242.3,363 Q229.4,369.5 216.5,363 Z" fill="url(#gRodW)" opacity=".95"/>
<path d="M216.5,336 Q229.4,329.5 242.3,336 L242.3,352 Q229.4,356 216.5,352 Z" fill="url(#gSteelH)"/>
<ellipse cx="229.4" cy="336" rx="12.9" ry="3.6" fill="#c9c7c3"/>
<ellipse cx="229.4" cy="336" rx="12.9" ry="3.6" fill="none" stroke="#f1f1f0" stroke-width=".6"/>
<rect x="333.6" y="148" width="5.4" height="187" fill="url(#gRod)"/>
<rect x="332.6" y="366" width="7" height="140" fill="url(#gRodW)"/>
<rect x="328.3" y="373.5" width="15" height="4.8" rx="1.5" fill="#93c6d6"/><rect x="328.3" y="397.3" width="15" height="4.8" rx="1.5" fill="#93c6d6"/>
<rect x="327.3" y="504" width="16" height="7" rx="2.5" fill="#86bfd0"/>
<circle cx="336" cy="447.7" r="17.8" fill="url(#gBallW)"/>
<path d="M318.3,449.5 Q336,454 353.7,449.5" fill="none" stroke="#4f8da3" stroke-width=".9" opacity=".8"/>
<circle cx="336" cy="350.2" r="17.6" fill="url(#gBallW)"/>
<clipPath id="cpB1"><path d="M300,320 L372,320 L372,352.5 Q336,355.5 300,353 Z"/></clipPath>
<circle cx="336" cy="350.2" r="17.6" fill="url(#gBall)" clip-path="url(#cpB1)"/>
<path d="M318.6,352.3 Q336,355.8 353.4,352.3" fill="none" stroke="#6b6862" stroke-width=".9" opacity=".7"/>
<path d="M388.6,146.5 L395.8,146.5 L397.2,368 L389.8,368 Z" fill="#2f7fce"/>
<path d="M388.6,146.5 L390.6,146.5 L391.8,368 L389.8,368 Z" fill="#4a95dc" opacity=".8"/>
<rect x="389.6" y="354" width="7.2" height="14" fill="#2a78c6"/>
<path d="M389,352 L397,352 L398,361 Q405.3,364 405.3,372 L405.3,442 Q405.3,451.5 393.8,451.5 Q382.3,451.5 382.3,442 L382.3,372 Q382.3,364 389,361 Z" fill="#9fc0cc"/>
<path d="M389,352 L397,352 L398,362 L389,362 Z" fill="#2f7bc8"/>
<rect x="384.5" y="368" width="5" height="68" fill="#c5d8de" opacity=".8"/>
<rect x="399" y="368" width="6.3" height="68" fill="#7fa1ae" opacity=".6"/>
<path d="M382.3,436 L405.3,436 L405.3,442 Q405.3,451.5 393.8,451.5 Q382.3,451.5 382.3,442 Z" fill="#3b4a50"/>
<rect x="382.6" y="392.4" width="22.5" height="24.6" fill="#eef3f5"/>
<rect x="383" y="393" width="9" height="3.4" fill="#2a5fb0"/>
<g stroke="#555" stroke-width=".5"><path d="M384,400 h14 M386,403 h4 M393,403 h4 M386,406 h12 M386,409 h10 M386,412 h8"/></g>
<rect x="441.5" y="146.5" width="4.2" height="42" fill="#e8803c"/>
<path d="M441.2,185.5 L446,185.5 L448.8,214 L439,214 Z" fill="#2b2623"/>
<path d="M447.2,213.5 C447.4,214.6 447.4,217.2 448.3,220.0 C449.2,222.8 450.9,226.7 452.4,230.0 C453.9,233.3 455.6,236.7 457.2,240.0 C458.8,243.3 460.3,246.7 461.9,250.0 C463.5,253.3 465.1,256.7 466.6,260.0 C468.0,263.3 469.5,266.7 470.6,270.0 C471.7,273.3 472.8,277.2 473.4,280.0 C474.0,282.8 474.5,284.5 474.3,287.0 C474.1,289.5 473.5,292.5 472.1,295.0 C470.7,297.5 468.2,300.0 465.8,302.0 C463.4,304.0 460.3,305.7 457.7,307.0 C455.1,308.3 452.5,309.2 449.9,309.8 C447.3,310.4 443.2,310.5 441.9,310.6 C440.6,310.5 436.5,310.4 433.9,309.8 C431.3,309.2 428.7,308.3 426.1,307.0 C423.4,305.7 420.4,304.0 418.0,302.0 C415.6,300.0 413.1,297.5 411.7,295.0 C410.3,292.5 409.7,289.5 409.5,287.0 C409.3,284.5 409.8,282.8 410.4,280.0 C411.0,277.2 412.1,273.3 413.2,270.0 C414.3,266.7 415.8,263.3 417.2,260.0 C418.6,256.7 420.3,253.3 421.9,250.0 C423.5,246.7 425.0,243.3 426.6,240.0 C428.2,236.7 429.9,233.3 431.4,230.0 C432.9,226.7 434.6,222.8 435.5,220.0 C436.4,217.2 436.4,214.6 436.6,213.5 Z" fill="url(#gOrange)"/>
<path d="M409.8,285.5 Q442,291.5 474,285.5" fill="none" stroke="#d06a28" stroke-width=".8" opacity=".6"/><path d="M412,296 Q442,314 472,296 Q466,306 442,310.6 Q418,306 412,296 Z" fill="#d9702b" opacity=".45"/>
<g>
<path d="M546,262.5 L594,260.5 L594,270 L546,268 Z" fill="#aeaaa3"/>
<path d="M546,262.5 L594,260.5 L594,263.3 L546,264.6 Z" fill="#e0deda"/>
<path d="M546,266.8 L594,267.8 L594,270 L546,268 Z" fill="#7d7972"/>
<path d="M545,259.5 L578,250.3 L578,255 L547,263 Z" fill="#c9c6c0"/>
<path d="M545,259.5 L578,250.3 L578,251.8 L545.5,261 Z" fill="#e8e6e2"/>
<path d="M560,258.5 L578,254.2 L578,256.5 L560,260.8 Z" fill="#8a8680" opacity=".8"/>
<path d="M530,267.2 L547,263 L547,267.6 L530,271 Z" fill="#bbb7b0"/>
<path d="M530,267.2 L547,263 L547,264.3 L530,268.5 Z" fill="#e3e1dd"/>
<ellipse cx="546" cy="266" rx="1.6" ry="1.7" fill="#9db4c9"/>
<rect x="575.3" y="250.3" width="6" height="25.5" rx="1" fill="url(#gSteelH)"/>
<rect x="582.6" y="251" width="5.6" height="7.5" rx="1" fill="#c6c3bd"/>
<rect x="581" y="270" width="3" height="5" fill="#77736d"/>
<g transform="rotate(-15.5 515 272)">
<rect x="500.5" y="260.8" width="28.5" height="22.6" rx="3.5" fill="#b8b4ad"/>
<rect x="500.5" y="260.8" width="6" height="22.6" rx="3" fill="#cfccc6"/>
<rect x="506.5" y="260.8" width="1.6" height="22.6" fill="#8f8b84"/>
<rect x="509" y="260.8" width="6.5" height="22.6" fill="#ddd8cc"/>
<rect x="516" y="260.8" width="1.6" height="22.6" fill="#8f8b84"/>
<rect x="500.5" y="278.5" width="26" height="4.9" rx="2" fill="#8a8680" opacity=".45"/>
<ellipse cx="526" cy="272.1" rx="4.2" ry="11.3" fill="#a39f98"/>
<ellipse cx="526.6" cy="272.1" rx="3.2" ry="9.6" fill="#c4c1bb"/>
<ellipse cx="527" cy="272.1" rx="1.5" ry="2.6" fill="#f0efed"/>
</g>
</g>
<!-- instr_roof -->
<path d="M171,125.6 L171,133.6 A56.4,8.8 0 0 0 283.8,133.6 L283.8,125.6 Z" fill="url(#gFlangeSide)"/>
<path d="M171,130 A56.4,8.8 0 0 0 283.8,130" fill="none" stroke="#8a8680" stroke-width=".5" opacity=".5"/>
<ellipse cx="227.4" cy="125.6" rx="56.4" ry="8.6" fill="url(#gFlangeTop)"/>
<path d="M171,125.6 A56.4,8.6 0 0 0 283.8,125.6" fill="none" stroke="#eceae8" stroke-width=".7" opacity=".85"/>
<ellipse cx="187" cy="128.5" rx="4.2" ry="1" fill="#6f6b66" opacity=".7"/>
<ellipse cx="205" cy="119.8" rx="4.2" ry="1" fill="#6f6b66" opacity=".7"/>
<ellipse cx="252" cy="129.5" rx="4.2" ry="1" fill="#6f6b66" opacity=".7"/>
<ellipse cx="266" cy="121.2" rx="4.2" ry="1" fill="#6f6b66" opacity=".7"/>
<ellipse cx="227.4" cy="124" rx="5.6" ry="1.6" fill="#77736e" opacity=".8"/>
<rect x="223.6" y="91" width="7.4" height="33.2" fill="url(#gSteelH)"/>
<rect x="211.7" y="24.5" width="29.8" height="68" rx="1.5" fill="url(#gHeadD)"/>
<ellipse cx="226.6" cy="25" rx="14.9" ry="2.6" fill="#dddbd8"/>
<path d="M219.8,24.3 L219.8,22.4 Q226.3,20 233,22.4 L233,24.3 Q226.3,26.5 219.8,24.3 Z" fill="#bcb9b4"/>
<ellipse cx="226.4" cy="22.5" rx="6.6" ry="1.5" fill="#e6e4e1"/>
<rect x="211.9" y="51.5" width="29.4" height="27.5" fill="url(#gLabel)"/>
<rect x="215.5" y="73.8" width="15" height="4.2" fill="#fff" stroke="#333" stroke-width=".5"/><text x="216.3" y="77.3" font-size="3.6" font-weight="bold" fill="#222">WIKA</text>
<g stroke="#777" stroke-width=".35"><path d="M213,55 h26 M213,58.5 h6 M213,61 h4 M213,64 h5 M235,66 h5"/></g>
<rect x="211.7" y="50.3" width="29.8" height="1.2" fill="#77736e" opacity=".5"/><rect x="211.7" y="79" width="29.8" height="1.2" fill="#77736e" opacity=".5"/>
<path d="M212,37 L206,36 L198.5,36.8 Q196.5,41.5 198.5,46.2 L206,47 L212,45.5 Z" fill="#d7dcd8"/>
<path d="M206,36 L206,47" stroke="#aeb4b0" stroke-width=".7"/><path d="M202,36.3 L202,46.7" stroke="#bcc2be" stroke-width=".6"/>
<path d="M198.5,44 L212,43.5 L212,45.5 L206,47 L198.5,46.2 Z" fill="#a9afab" opacity=".7"/>
<rect x="234.3" y="86.5" width="3.2" height="3.2" fill="#77736e"/><path d="M236,92.5 L239,92.5 L238.5,97.5 L237.2,98.5 Z" fill="#6f6b66"/>
<ellipse cx="336.4" cy="122.6" rx="23.6" ry="4" fill="#cfcdc9" fill-opacity=".5" stroke="#e9e8e6" stroke-width="2"/>
<ellipse cx="336.4" cy="123.4" rx="23.8" ry="4" fill="none" stroke="#a5a29d" stroke-width=".6"/>
<ellipse cx="336.4" cy="122" rx="14" ry="2.4" fill="#c9c7c3"/>
<path d="M324.4,110 L351,110 L351,118.5 Q337.5,122 324.4,118.5 Z" fill="url(#gSteelH)"/>
<path d="M333,110 L333,120 M343,110 L343,120" stroke="#8e8a85" stroke-width=".6"/>
<rect x="307.2" y="68.3" width="57.8" height="42.4" rx="1.5" fill="url(#gBlueBox)"/>
<path d="M306.8,69.5 Q306.8,68 308.3,68 L364,68 Q365.5,68 365.5,69.5 L365.5,81 L306.8,81 Z" fill="#42428a"/>
<path d="M306.8,69.5 Q306.8,68 308.3,68 L364,68 Q365.5,68 365.5,69.5 L365.5,71 L306.8,71 Z" fill="#5a5a9e" opacity=".7"/>
<rect x="306.8" y="80.6" width="58.7" height="1.3" fill="#252568"/>
<rect x="315" y="94.5" width="38" height="15.2" fill="#f1f1f4"/>
<g stroke="#666" stroke-width=".4"><path d="M316.5,96.5 h24 M316.5,98.3 h22 M316.5,101.3 h19 M346,96 h4 M346,98 h5 M346,100 h4 M346,102 h3"/></g>
<rect x="324.5" y="104.6" width="9.5" height="3.6" fill="#fff" stroke="#333" stroke-width=".5"/><text x="325" y="107.7" font-size="3.1" font-weight="bold" fill="#222">WIKA</text>
<text x="316.2" y="108.3" font-size="4" font-weight="bold" fill="#222">CE</text>
<path d="M307.3,86 L300,85.5 L290,86 Q286.8,93.7 290,101.5 L300,102 L307.3,101 Z" fill="#2b2b2e"/>
<path d="M300,85.5 L300,102" stroke="#4a4a4e" stroke-width=".8"/><path d="M303.5,85.7 L303.5,101.5" stroke="#45454a" stroke-width=".6"/>
<path d="M290,88 Q293,87 299,87.5" stroke="#55555a" stroke-width=".8" fill="none"/>
<rect x="388.6" y="116" width="7.2" height="14.5" fill="#2f7fce"/><rect x="388.6" y="116" width="2" height="14.5" fill="#4a95dc" opacity=".8"/>
<path d="M387.8,97.6 L390.6,97.4 L395,117.5 L389.2,118 Z" fill="#2a2a2c"/>
<rect x="441.5" y="116" width="4.2" height="17.5" fill="#e8803c"/>
<path d="M480,148.5 L498.6,148.5 L498.6,156 Q496,160 492.5,160.5 L490.3,166 L489.3,166 L487.5,160.5 Q482,160 480,156 Z" fill="url(#gSteelH)"/>
<g stroke="#8e8a85" stroke-width=".5" opacity=".7"><path d="M480,151 h18.6 M480,153.5 h18.6 M480.3,156 h18"/></g>
<rect x="480" y="120.5" width="20" height="7" fill="url(#gSteelD)"/>
<rect x="486.5" y="120.5" width="1.6" height="6" fill="#3f3b37"/><rect x="493.5" y="120.5" width="1.4" height="6" fill="#3f3b37"/>
<path d="M474,126.5 L504.6,126.5 L504.6,134.5 Q504.6,138 501,138 L477.6,138 Q474,138 474,134.5 Z" fill="url(#gNut)"/>
<rect x="473.4" y="91.5" width="31.9" height="30" rx="1" fill="url(#gSteelH)"/>
<rect x="473.6" y="96.8" width="31.5" height="23.4" fill="url(#gLabel)"/>
<g stroke="#777" stroke-width=".35"><path d="M475,99 h8 M475,101.3 h5 M475,104.5 h20 M475,107 h22 M475,110 h12 M475,112.5 h16 M475,115.5 h12 M475,118 h14"/></g>
<text x="496.2" y="117.2" font-size="5.4" font-weight="bold" fill="#222">CE</text>
<rect x="475" y="80.5" width="29.6" height="11.5" rx="1" fill="#222225"/>
<rect x="475" y="83" width="29.6" height="1" fill="#3c3c40"/>
<path d="M477.9,52.5 Q477.9,50.7 479.7,50.7 L500,50.7 L505,52 L518,53.5 L518,52.5 L523.6,53.2 L523.6,68 L518,68.6 L518,67.5 L508,68 Q503.5,69 503.5,74 L503.5,81.2 L477.9,81.2 Z" fill="#2a2a2d"/>
<path d="M479.5,53 L479.5,80 " stroke="#45454a" stroke-width="1.2"/>
<path d="M518,53.5 L518,67.5" stroke="#111" stroke-width=".8"/>
<path d="M503,56 Q509,58 512,66" stroke="#3e3e42" stroke-width="1" fill="none"/>
<!-- instr_right -->
<rect x="607.8" y="163.8" width="8.4" height="54.2" fill="#404042"/>
<rect x="607.8" y="492.5" width="8.4" height="54" fill="#404042"/>
<path d="M616,191.7 L687,191.7 A52.3,52.3 0 0 1 739.3,244 L739.3,423.5 A12.3,12.3 0 0 1 727,435.8 L716,435.8 A11.8,11.8 0 0 1 704.3,424 L701.6,388" fill="none" stroke="#93a4a7" stroke-width="1.7" stroke-linecap="round"/>
<path d="M616,518.8 L664.3,518.8" fill="none" stroke="#93a4a7" stroke-width="1.7" stroke-linecap="round"/>
<circle cx="664.3" cy="491.3" r="27.5" fill="none" stroke="#93a4a7" stroke-width="1.7" stroke-linecap="round"/>
<path d="M673.0,385.0 C669.4,386.0 657.6,388.6 651.4,391.0 C645.2,393.4 639.6,396.0 636.0,399.5 C632.4,403.0 630.3,408.1 629.6,412.0 C628.9,415.9 630.3,419.2 632.0,423.0 C633.7,426.8 636.7,431.0 640.0,435.0 C643.3,439.0 648.2,443.2 652.0,447.0 C655.8,450.8 659.7,454.6 663.0,457.5 C666.3,460.4 668.9,462.5 672.0,464.5 C675.1,466.5 679.9,468.7 681.5,469.5" fill="none" stroke="#93a4a7" stroke-width="1.7" stroke-linecap="round"/>
<g>
<ellipse cx="616.8" cy="269.7" rx="8" ry="45.2" fill="url(#gFlJ)"/>
<path d="M616.8,224.5 L620.3,224.5 L620.3,314.9 L616.8,314.9 Z" fill="url(#gFlJ)"/>
<ellipse cx="620.3" cy="269.7" rx="7.8" ry="45.2" fill="url(#gFlJ2)"/>
<ellipse cx="620.3" cy="269.7" rx="7.8" ry="45.2" fill="none" stroke="#f5f5f4" stroke-width=".7" opacity=".9"/>
<path d="M611,243 Q612.5,229 618,225.5" stroke="#fbfbfb" stroke-width="2.2" fill="none" opacity=".8"/>
<path d="M610.5,292 Q613,309 619,314" stroke="#8d8a85" stroke-width="2.2" fill="none" opacity=".5"/>
<ellipse cx="623.8" cy="269.2" rx="5.2" ry="27.5" fill="#8f8c87" opacity=".55"/>
<ellipse cx="624.8" cy="269.2" rx="5" ry="26.5" fill="url(#gFlJ)"/>
<path d="M625,244 Q629,247 630,252.7 L635,252.7 L635,285.3 L630,285.3 Q629,291 625,294.5 Z" fill="url(#gSteelV)"/>
<path d="M629.2,249.5 L629.2,289" stroke="#8d8a85" stroke-width=".7" opacity=".7"/>
<path d="M632.4,255 Q635,251 640,250.9 L661.3,250.9 L661.3,286.8 L640,286.8 Q635,286.5 632.4,283 Z" fill="url(#gSteelV)"/>
<rect x="654.5" y="250.9" width="6.8" height="35.9" fill="#e3e2df" opacity=".75"/>
<path d="M654.5,250.9 L654.5,286.8" stroke="#9c9995" stroke-width=".6"/>
<path d="M661.3,251.5 Q663.2,269 661.3,286.3 Z" fill="#c8c6c2"/>
<circle cx="658.6" cy="257" r=".8" fill="#7a7671"/><circle cx="659.2" cy="269" r=".8" fill="#7a7671"/><circle cx="658.6" cy="281" r=".8" fill="#7a7671"/>
<rect x="638.5" y="257.9" width="11.5" height="26.3" fill="#f3f4f5"/>
<g stroke="#666" stroke-width=".4"><path d="M640,260 v16 M642,262 v10 M644.4,262 v18 M646.6,262 v14 M648.6,260 v6"/></g>
<rect x="639.3" y="273.5" width="2.6" height="7" fill="#333"/>
<path d="M640.5,287 L651.5,287 L651.5,291.5 L652.5,292 L652.5,298.5 Q650,303.5 646,303.5 Q642,303.5 639.4,298.5 L639.4,292 L640.5,291.5 Z" fill="#2a2a2d"/>
<path d="M639.4,292.3 L652.5,292.3 M639.4,298 L652.5,298" stroke="#4b4b50" stroke-width=".6"/>
</g>
<g>
<rect x="666.3" y="363" width="49.7" height="40.5" rx="2.5" fill="#7f7a72"/>
<rect x="666.3" y="363" width="49.7" height="10.5" rx="2" fill="#99948c"/>
<rect x="668" y="363" width="46" height="3" rx="1.5" fill="#b4afa7"/>
<rect x="706" y="366" width="10" height="36" rx="1.5" fill="#6d6860"/>
<rect x="680" y="375" width="13.2" height="25" fill="url(#gSteelD)"/>
<rect x="680" y="372" width="13.2" height="4" fill="#5f5a53"/><rect x="680" y="398.5" width="13.2" height="3.5" fill="#4f4a44"/>
<ellipse cx="673.2" cy="388" rx="7" ry="16.3" fill="#aaa49b"/>
<ellipse cx="699.5" cy="388" rx="6.5" ry="16.3" fill="#a5a097"/>
<ellipse cx="672.4" cy="388" rx="4.6" ry="13.5" fill="#bcb7ae" opacity=".7"/>
<ellipse cx="698.8" cy="388" rx="4.2" ry="13.5" fill="#b8b3aa" opacity=".7"/>
<circle cx="673.2" cy="377.5" r="1.9" fill="#4d4842"/>
<circle cx="673.2" cy="388" r="1.9" fill="#4d4842"/>
<circle cx="673.2" cy="398.5" r="1.9" fill="#4d4842"/>
<circle cx="699.5" cy="377.5" r="1.9" fill="#4d4842"/>
<circle cx="699.5" cy="388" r="1.9" fill="#4d4842"/>
<circle cx="699.5" cy="398.5" r="1.9" fill="#4d4842"/>
<circle cx="715" cy="367.5" r="1" fill="#b5483e"/><circle cx="713.5" cy="372.5" r=".9" fill="#b5483e"/><circle cx="715" cy="392.5" r=".9" fill="#b5483e"/><circle cx="713.5" cy="397.5" r=".9" fill="#b5483e"/>
<rect x="675" y="340" width="28.7" height="20.8" rx="2" fill="url(#gSteelH)"/>
<path d="M679,359 L700.5,359 L697,366 L683,366 Z" fill="#8f8b85"/>
<ellipse cx="689.3" cy="340.5" rx="14.3" ry="2" fill="#85817b" opacity=".7"/>
<path d="M676.5,312 L699.5,312 L699.5,333 Q699.5,339 692,339.3 L684,339.3 Q676.5,339 676.5,333 Z" fill="url(#gPurple)"/>
<path d="M664.3,293 L674,290 L674,315 L664.3,311.5 Z" fill="#4d3d7e"/>
<path d="M664.3,293 L674,290 L674,296 L664.3,298.5 Z" fill="#6b5aa2" opacity=".8"/>
<path d="M665,296.2 L661,296 Q658.2,297.5 658.4,302.6 Q658.2,307.7 661,309.3 L665,309.1 Z" fill="#26262a"/>
<path d="M661.8,296.2 L661.8,309.2" stroke="#47474c" stroke-width=".6"/>
<path d="M672.7,284 L708,284 L708,313 Q708,316.5 704,316.5 L676.5,316.5 Q672.7,316.5 672.7,313 Z" fill="url(#gPurple)"/>
<path d="M671,279 Q671,274 677,274 L703,274 Q708.6,274 708.6,279 L708.6,285.5 L671,285.5 Z" fill="url(#gPurple)"/>
<path d="M674,275.5 Q689,272.8 706,275.5 L706,277 Q689,274.8 674,277 Z" fill="#8473b8" opacity=".75"/>
<path d="M671,285.6 L708.6,285.6" stroke="#2f2355" stroke-width=".9"/>
<rect x="696.6" y="304.4" width="10.7" height="21.5" fill="#f1f1f3"/>
<g stroke="#777" stroke-width=".4"><path d="M698,306.5 h8 M698,309 h6 M698,311.5 h8 M698,314 h5 M698,316.5 h7 M698,319 h6 M698,321.5 h8"/></g>
<path d="M664,390 Q668,388.5 672.6,387.6" fill="none" stroke="#9fb0b3" stroke-width="1.6" stroke-linecap="round"/>
<path d="M701.4,388.5 L703.9,405" fill="none" stroke="#9fb0b3" stroke-width="1.6" stroke-linecap="round"/>
</g>
<!-- instr_left -->
<g>
<ellipse cx="101.6" cy="232.9" rx="11" ry="25.6" fill="#a8a49e"/>
<ellipse cx="102.6" cy="232.9" rx="10" ry="24.6" fill="url(#gFlL)"/>
<circle cx="97.6" cy="219.4" r="2.7" fill="#2f2d2b"/>
<ellipse cx="104" cy="438" rx="8" ry="16.5" fill="url(#gFlL)"/>
<rect x="88.6" y="300" width="2.6" height="192" fill="url(#gRodL)"/>
<rect x="70.3" y="179.5" width="11.9" height="7" fill="url(#gSteelD)"/><ellipse cx="76.2" cy="179.6" rx="5.9" ry="1.4" fill="#b9b6b1"/>
<rect x="57.5" y="186" width="35" height="22.4" fill="url(#gHeadL)"/>
<ellipse cx="75" cy="186.2" rx="17.5" ry="2.6" fill="#aaa7a1"/>
<rect x="58.3" y="208.2" width="33.5" height="9.8" fill="url(#gSteelD)"/>
<rect x="70" y="208.2" width="8.5" height="11" fill="#d3d1cd"/>
<rect x="58.3" y="212.6" width="33.5" height="1" fill="#6d6964" opacity=".7"/>
<rect x="58.8" y="218.6" width="27.6" height="268" fill="url(#gRail)"/>
<rect x="58.8" y="218.6" width="27.6" height="9" fill="#d9dcdf"/>
<rect x="65.4" y="227" width="14" height="248" fill="#c5c9ce"/>
<rect x="66.5" y="232.8" width="12" height="92.6" fill="url(#pFlapW)"/>
<rect x="67" y="325.4" width="12.2" height="146.6" fill="url(#pFlapR)"/>
<rect x="65.4" y="227" width="14" height="248" fill="none" stroke="#9aa0a6" stroke-width=".7"/>
<rect x="64.8" y="476" width="14.8" height="19" fill="#c9ccd0"/>
<rect x="83.6" y="228" width="1" height="258" fill="#9aa0a6" opacity=".8"/>
<rect x="86.8" y="239" width="14.6" height="58.5" rx="1" fill="#e9ebec"/>
<rect x="86.8" y="239" width="14.6" height="58.5" rx="1" fill="none" stroke="#a6aaad" stroke-width=".6"/>
<g stroke="#777" stroke-width=".4"><path d="M88.5,242 h10 M92,244.5 h4 M88.5,248 h11 M88.5,250.5 h9 M88.5,253 h11 M88.5,255.5 h7 M88.5,258 h11 M88.5,260.5 h10 M88.5,271 h11 M88.5,273.5 h9 M88.5,276 h11 M88.5,278.5 h8 M88.5,281 h11 M88.5,283.5 h6 M88.5,288 h11 M88.5,291 h9"/></g>
<rect x="88.3" y="263.5" width="11.5" height="4.6" fill="#2f2f31"/><text x="89.2" y="267.3" font-size="3.6" font-weight="bold" fill="#fff">WIKA</text>
<rect x="88.3" y="293" width="11.5" height="3" fill="#3a3a3c"/>
<path d="M90,297.5 L98.8,297.5 L98.8,305 L97.5,310 L91.3,310 L90,305 Z" fill="url(#gSteelH)"/>
<path d="M90,302.5 L98.8,302.5" stroke="#7f7c78" stroke-width=".6"/>
<path d="M94.5,310 C94.5,320 97,329 100.8,335.5" fill="none" stroke="#3f7fd0" stroke-width="1.3"/>
<rect x="87.6" y="414.3" width="13.8" height="57.6" rx="1" fill="#e9ebec"/>
<rect x="87.6" y="414.3" width="13.8" height="57.6" rx="1" fill="none" stroke="#a6aaad" stroke-width=".6"/>
<g stroke="#777" stroke-width=".4"><path d="M89.2,417 h10 M92,419.5 h4 M89.2,423 h10.5 M89.2,425.5 h9 M89.2,428 h10.5 M89.2,430.5 h7 M89.2,433 h10.5 M89.2,435.5 h10 M89.2,446 h10.5 M89.2,448.5 h9 M89.2,451 h10.5 M89.2,453.5 h8 M89.2,456 h10.5 M89.2,458.5 h6 M89.2,463 h10.5"/></g>
<rect x="89" y="438.5" width="11" height="4.6" fill="#2f2f31"/><text x="89.7" y="442.3" font-size="3.5" font-weight="bold" fill="#fff">WIKA</text>
<path d="M90.8,472 L98.7,472 L98.7,477.5 L97.5,481 L92,481 L90.8,477.5 Z" fill="url(#gSteelH)"/>
<path d="M96.5,481 C98,487 100,492 103.5,496" fill="none" stroke="#3f7fd0" stroke-width="1.3"/>
<path d="M88,466 C94,468 101,474 104,484" fill="none" stroke="#3f7fd0" stroke-width="1.2" opacity=".0"/>
<path d="M45.7,545.7 L45.7,566.5 A33.8,9.5 0 0 0 113.3,566.5 L113.3,545.7 Z" fill="url(#gFlB)"/>
<path d="M45.7,558.2 A33.8,9.5 0 0 0 113.3,558.2" fill="none" stroke="#5f5b56" stroke-width="1" opacity=".85"/>
<path d="M45.7,559.6 A33.8,9.5 0 0 0 113.3,559.6" fill="none" stroke="#efeeec" stroke-width=".8" opacity=".7"/>
<ellipse cx="79.5" cy="545.7" rx="33.8" ry="9" fill="url(#gFlBT)"/>
<path d="M45.7,545.7 A33.8,9 0 0 0 113.3,545.7" fill="none" stroke="#e9e8e6" stroke-width=".7" opacity=".8"/>
<path d="M67,541 L91,541 L91,550 Q79,555 67,550 Z" fill="url(#gSteelH)"/>
<path d="M96.8,531.5 L103.2,531.5 L103.2,539.5 Q100.0,541.3 96.8,539.5 Z" fill="url(#gSteelH)"/>
<ellipse cx="100.0" cy="531.5" rx="3.2" ry="1.6" fill="#dcdad6" stroke="#8a8680" stroke-width=".4"/>
<path d="M54.1,546.5 L61.3,546.5 L61.3,551.0 Q57.7,552.8 54.1,551.0 Z" fill="url(#gSteelH)"/>
<ellipse cx="57.7" cy="546.5" rx="3.6" ry="1.6" fill="#dcdad6" stroke="#8a8680" stroke-width=".4"/>
<path d="M91.4,548.5 L98.0,548.5 L98.0,553.0 Q94.7,554.8 91.4,553.0 Z" fill="url(#gSteelH)"/>
<ellipse cx="94.7" cy="548.5" rx="3.3" ry="1.6" fill="#dcdad6" stroke="#8a8680" stroke-width=".4"/>
<path d="M59.8,536.0 L65.2,536.0 L65.2,540.0 Q62.5,541.8 59.8,540.0 Z" fill="url(#gSteelH)"/>
<ellipse cx="62.5" cy="536.0" rx="2.8" ry="1.6" fill="#dcdad6" stroke="#8a8680" stroke-width=".4"/>
<path d="M62,492.4 L90.5,492.4 L92.4,497 L92.4,543.3 L59.9,543.3 L59.9,497 Z" fill="#29292b"/>
<g stroke="#d9d9d9" stroke-width=".4" opacity=".85"><path d="M62.5,499 h26 M62.5,501.5 h18 M62.5,505 h8 M76,505 h9 M62.5,508 h6 M76,508 h8 M62.5,511 h8 M76,511 h10 M62.5,514 h5 M76,514 h8 M62.5,520 h7 M62.5,523 h5 M76,526.5 h11"/></g>
<text x="62.3" y="532.5" font-size="3.6" font-weight="bold" fill="#eee">CE</text>
<rect x="62.3" y="535.3" width="10.5" height="4.2" fill="#29292b" stroke="#eee" stroke-width=".45"/><text x="62.9" y="538.8" font-size="3.2" font-weight="bold" fill="#eee">WIKA</text>
<path d="M64,487 L88,487 L90.5,492.6 L62,492.6 Z" fill="#8e939a"/>
<rect x="36.5" y="488.2" width="22" height="11.5" fill="url(#gSteelV)"/>
<rect x="50" y="485.5" width="5.4" height="21" rx="1" fill="#2d3873"/>
<path d="M49.8,210.6 L55.6,210.6 L58.1,500 L52.3,500 Z" fill="url(#gRodL)"/>
<rect x="46.6" y="237" width="11" height="9.4" rx="1" fill="#b9b7b3"/><rect x="46.6" y="240" width="11" height="1.2" fill="#7f7c78"/>
<rect x="49.4" y="452.5" width="12" height="9.5" rx="1" fill="#aeaba6"/><rect x="49.4" y="456" width="12" height="1.2" fill="#77746f"/>
<path d="M12.2,468.5 L40.6,469.2 L36.5,481 L14.5,479 L5.4,480.5 Z" fill="#303c8a"/>
<path d="M12.2,468.5 L19,468.7 L14.5,479 L5.4,480.5 Z" fill="#4a5aae"/>
<path d="M40.6,469.2 L41,502 L37,518.5 L36.5,481 Z" fill="#27316f"/>
<path d="M14.5,479 L36.5,481 L37,518.5 L15,518.3 Z" fill="#3645a0"/>
<path d="M5.4,480.5 L14.5,479 L15,518.3 L7.4,518 Z" fill="#4f60b6"/>
<path d="M5.4,480.5 L14.5,479 L36.5,481" fill="none" stroke="#7d8cd0" stroke-width=".7" opacity=".8"/>
<path d="M14.3,486 L33.8,486.8 L33.8,516.8 L14.6,516.4 Z" fill="#eff1f5"/>
<g stroke="#777" stroke-width=".4"><path d="M16,489 l9,.3 M16,491.3 l7,.2 M16,494 l8,.3 M16,497 l6,.2 M16,500 l8,.3 M16,503 l7,.2 M16,506 l8,.3 M16,509 l6,.2 M16,512 l8,.3"/></g>
<rect x="28" y="498" width="4" height="10.5" fill="#9a9da3"/><rect x="28.5" y="510.5" width="3" height="3.4" fill="#444"/>
<rect x="17.2" y="488.3" width="3" height="2.2" fill="#2e62b0"/>
<path d="M22.3,519 L34.5,519.3 L34.5,525 Q32,529.2 28.4,529 Q24.5,528.8 22.3,524.5 Z" fill="#34343a"/>
<path d="M22.3,521.8 L34.5,522.2" stroke="#5a5a60" stroke-width=".6"/>
</g>
</g></svg>
</body></html>
